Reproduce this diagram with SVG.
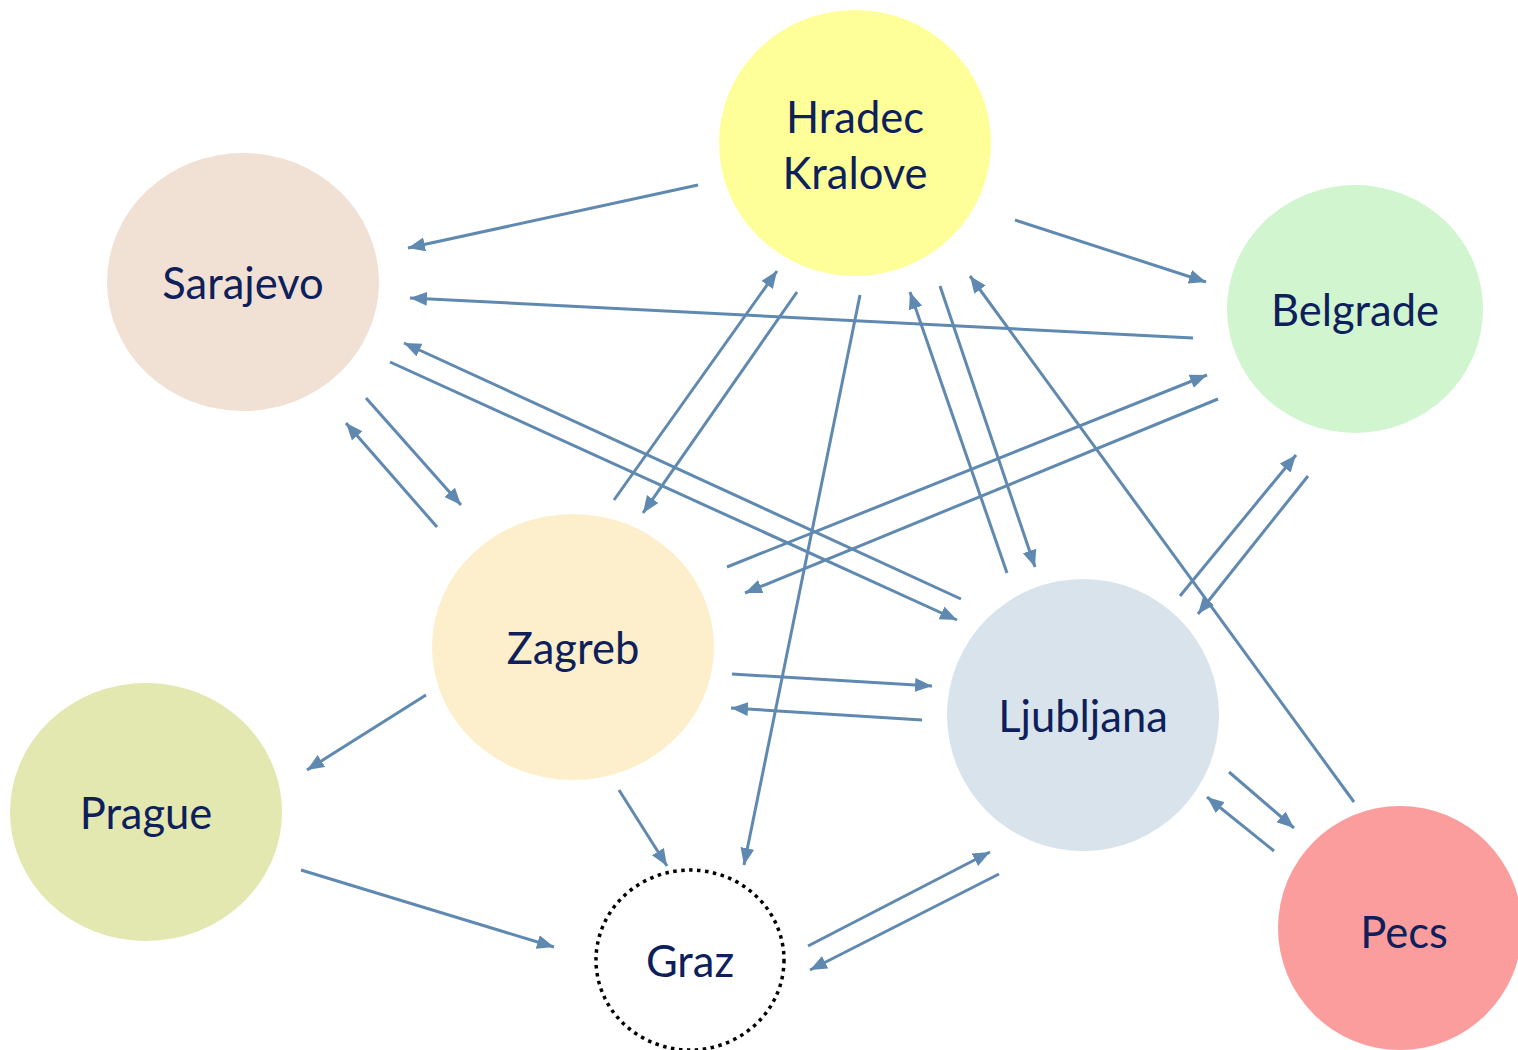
<svg xmlns="http://www.w3.org/2000/svg" width="1518" height="1050" viewBox="0 0 1518 1050">
<style>
.lbl{font-family:"Lato","Open Sans","Liberation Sans",sans-serif;font-size:43.5px;fill:#0E1F5B;text-anchor:middle}
.c line{stroke:#5F89B0;stroke-width:3;marker-end:url(#ah)}
</style>
<defs>
<marker id="ah" markerUnits="userSpaceOnUse" markerWidth="20" markerHeight="16" refX="17" refY="7" orient="auto">
<path d="M0,0 L17,7 L0,14 z" fill="#5F89B0"/>
</marker>
</defs>
<rect width="1518" height="1050" fill="#fff"/>
<g id="hradec"><ellipse cx="855" cy="143" rx="136" ry="133" fill="#FFFF99"/><text class="lbl" x="855" y="133">Hradec</text><text class="lbl" x="855" y="189">Kralove</text></g>
<g id="sarajevo"><ellipse cx="243" cy="282" rx="136" ry="129" fill="#F0E1D4"/><text class="lbl" x="243" y="299">Sarajevo</text></g>
<g id="belgrade"><ellipse cx="1355" cy="309" rx="128" ry="124" fill="#D0F5CF"/><text class="lbl" x="1355" y="326">Belgrade</text></g>
<g id="zagreb"><ellipse cx="573" cy="647" rx="141" ry="133" fill="#FDEFCB"/><text class="lbl" x="573" y="664">Zagreb</text></g>
<g id="ljubljana"><ellipse cx="1083" cy="715" rx="136" ry="136" fill="#D9E3EC"/><text class="lbl" x="1083" y="732">Ljubljana</text></g>
<g id="prague"><ellipse cx="146" cy="812" rx="136" ry="129" fill="#E2E8B0"/><text class="lbl" x="146" y="829">Prague</text></g>
<g id="graz"><ellipse cx="690" cy="960" rx="94" ry="90" fill="#fff" stroke="#000" stroke-width="3.5" stroke-dasharray="3.5 4.5"/><text class="lbl" x="690" y="977">Graz</text></g>
<g id="pecs"><circle cx="1400" cy="928" r="122" fill="#FB9D9D"/><text class="lbl" x="1404" y="948">Pecs</text></g>
<g id="connectors" class="c">
<line x1="698" y1="185" x2="408" y2="248"/>
<line x1="1193" y1="338" x2="410" y2="298"/>
<line x1="1015" y1="220" x2="1206" y2="282"/>
<line x1="366" y1="398" x2="461" y2="505"/>
<line x1="437" y1="527" x2="346" y2="423"/>
<line x1="390" y1="362" x2="957" y2="620"/>
<line x1="961" y1="599" x2="404" y2="343"/>
<line x1="614" y1="500" x2="777" y2="271"/>
<line x1="797" y1="292" x2="643" y2="513"/>
<line x1="860" y1="295" x2="744" y2="865"/>
<line x1="1007" y1="573" x2="910" y2="292"/>
<line x1="940" y1="286" x2="1035" y2="567"/>
<line x1="1354" y1="802" x2="970" y2="276"/>
<line x1="727" y1="567" x2="1207" y2="375"/>
<line x1="1218" y1="399" x2="745" y2="593"/>
<line x1="1180" y1="596" x2="1296" y2="455"/>
<line x1="1308" y1="476" x2="1198" y2="614"/>
<line x1="732" y1="674" x2="932" y2="686"/>
<line x1="922" y1="720" x2="731" y2="708"/>
<line x1="426" y1="695" x2="307" y2="770"/>
<line x1="619" y1="790" x2="667" y2="866"/>
<line x1="301" y1="870" x2="554" y2="947"/>
<line x1="808" y1="946" x2="990" y2="852"/>
<line x1="999" y1="874" x2="810" y2="970"/>
<line x1="1229" y1="772" x2="1294" y2="828"/>
<line x1="1274" y1="851" x2="1207" y2="797"/>
</g>
</svg>
